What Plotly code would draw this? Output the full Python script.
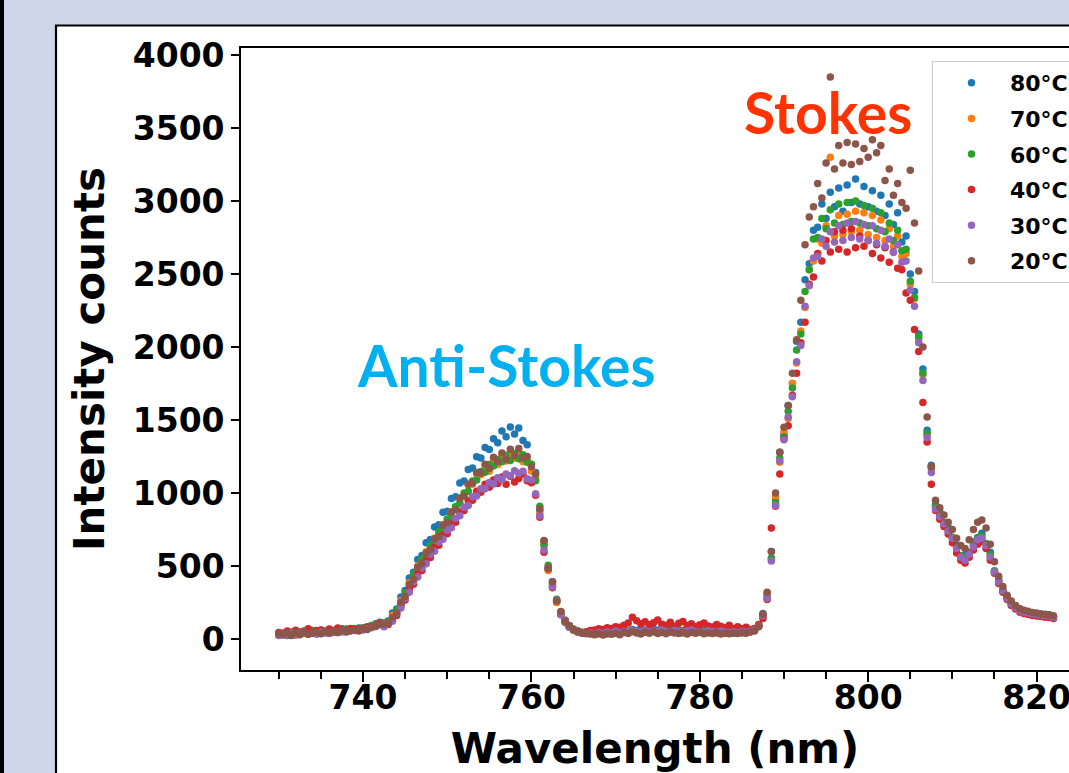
import plotly.graph_objects as go

# ---------------- data ----------------
wavelength = [
    730.0, 730.5, 731.0, 731.5, 732.0, 732.5, 733.0, 733.5, 734.0, 734.5,
    735.0, 735.5, 736.0, 736.5, 737.0, 737.5, 738.0, 738.5, 739.0, 739.5,
    740.0, 740.5, 741.0, 741.5, 742.0, 742.5, 743.0, 743.5, 744.0, 744.5,
    745.0, 745.5, 746.0, 746.5, 747.0, 747.5, 748.0, 748.5, 749.0, 749.5,
    750.0, 750.5, 751.0, 751.5, 752.0, 752.5, 753.0, 753.5, 754.0, 754.5,
    755.0, 755.5, 756.0, 756.5, 757.0, 757.5, 758.0, 758.5, 759.0, 759.5,
    760.0, 760.5, 761.0, 761.5, 762.0, 762.5, 763.0, 763.5, 764.0, 764.5,
    765.0, 765.5, 766.0, 766.5, 767.0, 767.5, 768.0, 768.5, 769.0, 769.5,
    770.0, 770.5, 771.0, 771.5, 772.0, 772.5, 773.0, 773.5, 774.0, 774.5,
    775.0, 775.5, 776.0, 776.5, 777.0, 777.5, 778.0, 778.5, 779.0, 779.5,
    780.0, 780.5, 781.0, 781.5, 782.0, 782.5, 783.0, 783.5, 784.0, 784.5,
    785.0, 785.5, 786.0, 786.5, 787.0, 787.5, 788.0, 788.5, 789.0, 789.5,
    790.0, 790.5, 791.0, 791.5, 792.0, 792.5, 793.0, 793.5, 794.0, 794.5,
    795.0, 795.5, 796.0, 796.5, 797.0, 797.5, 798.0, 798.5, 799.0, 799.5,
    800.0, 800.5, 801.0, 801.5, 802.0, 802.5, 803.0, 803.5, 804.0, 804.5,
    805.0, 805.5, 806.0, 806.5, 807.0, 807.5, 808.0, 808.5, 809.0, 809.5,
    810.0, 810.5, 811.0, 811.5, 812.0, 812.5, 813.0, 813.5, 814.0, 814.5,
    815.0, 815.5, 816.0, 816.5, 817.0, 817.5, 818.0, 818.5, 819.0, 819.5,
    820.0, 820.5, 821.0, 821.5, 822.0,
]

counts_80C = [
    30, 38, 25, 45, 33, 40, 55, 38, 48, 35, 60, 45, 52, 58, 48, 70, 55, 62, 68, 75, 72, 85, 90, 105, 115,
    112, 124, 178, 206, 288, 332, 418, 458, 545, 572, 660, 682, 768, 782, 868, 876, 962, 975, 1068, 1082,
    1162, 1172, 1248, 1240, 1312, 1298, 1372, 1345, 1425, 1385, 1452, 1405, 1445, 1360, 1330,
    1195, 1140, 880, 672, 478, 392, 252, 186, 114, 92, 60, 55, 40,
    45, 40, 50, 38, 55, 45, 42, 52, 48, 60, 55, 65, 58, 70, 62, 55, 68, 60, 72, 58,
    65, 70, 62, 58, 66, 55, 62, 70, 58, 52, 60, 55, 48, 58, 50, 45, 52, 48, 55, 50, 60, 95,
    175, 300, 600, 960, 1280, 1400, 1600, 1750, 2040, 2170, 2460, 2570, 2800, 2820, 2980,
    2880, 3060, 2960, 3090, 2930, 3110, 2990, 3150, 2980, 3100, 2960, 3070, 2930, 3040, 2900,
    2980, 2840, 2920, 2720, 2760, 2500, 2380, 2090, 1850, 1430, 1190, 920,
    875, 790, 765, 690, 645, 565, 575, 590, 665, 690, 725, 650, 595, 460, 410,
    328, 292, 240, 226, 196, 194, 178, 180, 168, 172, 162, 166, 152,
]

counts_70C = [
    40, 32, 35, 50, 28, 45, 38, 55, 42, 50, 38, 48, 60, 45, 55, 50, 65, 58, 70, 62, 75, 80, 88, 98, 110,
    106, 112, 162, 188, 262, 302, 385, 420, 500, 528, 598, 622, 692, 710, 785, 800, 872, 890, 962, 978,
    1055, 1060, 1130, 1125, 1185, 1150, 1222, 1195, 1252, 1220, 1265, 1240, 1270, 1215, 1225,
    1150, 1105, 860, 655, 470, 382, 250, 186, 118, 90, 62, 55, 42,
    42, 38, 48, 35, 50, 40, 45, 38, 52, 44, 48, 55, 50, 42, 58, 46, 52, 48, 56, 44,
    50, 58, 46, 52, 48, 55, 42, 50, 46, 52, 44, 48, 40, 46, 42, 50, 44, 48, 42, 50, 58, 92,
    150, 310, 545, 975, 1210, 1420, 1510, 1750, 1890, 2110, 2270, 2530, 2590, 2740, 2710,
    2830, 3300, 2760, 2900, 2770, 2910, 2790, 2930, 2800, 2920, 2770, 2900, 2750, 2870, 2730,
    2810, 2690, 2760, 2620, 2640, 2430, 2330, 2050, 1810, 1400, 1170, 900,
    850, 795, 745, 695, 625, 565, 550, 590, 640, 690, 700, 650, 570, 465, 395,
    332, 282, 242, 218, 198, 188, 180, 174, 170, 166, 162, 160, 152,
]

counts_60C = [
    28, 42, 36, 30, 52, 38, 45, 40, 58, 42, 50, 44, 56, 50, 62, 54, 68, 60, 72, 66, 78, 82, 92, 100, 112,
    92, 122, 140, 198, 238, 318, 358, 440, 470, 545, 570, 640, 662, 735, 750, 822, 840, 908, 930, 1000,
    1012, 1082, 1090, 1148, 1142, 1195, 1185, 1230, 1215, 1258, 1222, 1270, 1235, 1262, 1210,
    1198, 1085, 910, 640, 505, 368, 272, 170, 130, 82, 68, 48, 46,
    38, 45, 36, 48, 40, 52, 38, 46, 42, 50, 45, 55, 48, 52, 46, 58, 50, 44, 54, 48,
    52, 46, 56, 42, 50, 48, 54, 44, 50, 46, 52, 42, 48, 44, 50, 40, 46, 42, 48, 52, 62, 100,
    165, 285, 555, 935, 1240, 1385, 1560, 1720, 1980, 2090, 2380, 2530, 2740, 2750, 2880,
    2810, 2940, 2850, 2980, 2840, 2990, 2860, 3000, 2850, 2970, 2830, 2950, 2810, 2920, 2790,
    2850, 2730, 2800, 2660, 2670, 2450, 2340, 2070, 1820, 1410, 1180, 910,
    855, 798, 748, 698, 628, 570, 555, 595, 645, 695, 705, 655, 575, 468, 398,
    334, 284, 244, 219, 199, 189, 181, 175, 171, 167, 163, 161, 154,
]

counts_40C = [
    45, 35, 55, 40, 60, 48, 52, 70, 45, 58, 62, 50, 68, 55, 75, 60, 58, 72, 65, 70, 68, 80, 85, 95, 108,
    98, 100, 138, 162, 228, 268, 340, 375, 448, 470, 540, 558, 628, 642, 712, 722, 790, 800, 872, 880,
    948, 950, 1012, 1005, 1060, 1040, 1090, 1065, 1110, 1060, 1115, 1075, 1100, 1130, 1085,
    1070, 985, 835, 595, 482, 352, 262, 166, 125, 80, 66, 47, 45,
    50, 58, 62, 70, 65, 78, 72, 85, 80, 95, 110, 150, 125, 105, 118, 98, 112, 130, 102, 95,
    115, 88, 108, 120, 92, 105, 85, 98, 110, 90, 82, 100, 88, 78, 95, 72, 85, 70, 80, 65, 72, 98,
    140, 270, 760, 910, 1130, 1370, 1460, 1670, 1820, 2030, 2170, 2430, 2480, 2640, 2590,
    2730, 2650, 2790, 2670, 2800, 2650, 2810, 2680, 2760, 2690, 2730, 2640, 2700, 2610, 2680,
    2580, 2650, 2540, 2530, 2370, 2320, 2120, 1970, 1620, 1350, 1060, 880,
    820, 770, 720, 660, 590, 540, 520, 560, 610, 650, 670, 620, 540, 450, 380,
    320, 270, 230, 205, 185, 175, 168, 162, 158, 155, 150, 148, 140,
]

counts_30C = [
    25, 35, 30, 42, 28, 38, 45, 32, 40, 36, 48, 42, 38, 52, 45, 50, 48, 55, 58, 60, 62, 70, 78, 88, 98,
    84, 108, 122, 175, 212, 280, 320, 392, 425, 488, 515, 580, 602, 665, 684, 745, 762, 825, 845, 902,
    915, 975, 980, 1030, 1030, 1072, 1062, 1105, 1092, 1130, 1118, 1152, 1135, 1150, 1098,
    1090, 995, 845, 610, 488, 358, 265, 168, 126, 80, 66, 48, 45,
    36, 42, 32, 45, 38, 48, 40, 55, 44, 50, 46, 58, 52, 48, 60, 50, 55, 46, 62, 52,
    48, 58, 50, 45, 55, 62, 48, 52, 44, 56, 50, 46, 55, 48, 42, 50, 45, 52, 48, 55, 60, 88,
    160, 280, 535, 915, 1220, 1365, 1520, 1660, 1900, 2010, 2280, 2420, 2610, 2620, 2740,
    2690, 2790, 2720, 2830, 2730, 2850, 2750, 2860, 2740, 2840, 2730, 2830, 2710, 2800, 2690,
    2740, 2650, 2700, 2580, 2590, 2390, 2280, 2030, 1770, 1380, 1140, 890,
    840, 790, 740, 690, 620, 560, 540, 580, 630, 680, 690, 640, 560, 460, 390,
    330, 280, 240, 215, 195, 185, 178, 172, 168, 165, 160, 158, 150,
]

counts_20C = [
    35, 28, 42, 25, 48, 30, 52, 33, 40, 47, 36, 55, 41, 50, 44, 62, 50, 56, 62, 55, 70, 66, 82, 86, 102,
    102, 108, 148, 178, 252, 292, 375, 410, 492, 518, 590, 612, 685, 702, 780, 795, 870, 885, 965, 980,
    1060, 1068, 1140, 1135, 1198, 1170, 1245, 1215, 1275, 1230, 1300, 1255, 1305, 1240, 1250,
    1180, 1130, 890, 675, 488, 392, 260, 188, 122, 92, 63, 55, 42,
    40, 35, 30, 38, 28, 35, 32, 40, 30, 45, 38, 50, 42, 35, 48, 40, 52, 38, 45, 36,
    50, 42, 38, 46, 35, 44, 40, 48, 36, 42, 38, 45, 34, 40, 36, 42, 38, 45, 40, 48, 55, 85,
    170, 320, 600, 1000, 1280, 1450, 1600, 1820, 2050, 2320, 2700, 2890, 2960, 3120, 3020,
    3260, 3850, 3220, 3380, 3260, 3400, 3250, 3390, 3270, 3360, 3300, 3420, 3330, 3380, 3140,
    3220, 3040, 3120, 2990, 2950, 3210, 2850, 2520, 2000, 1520, 1180, 950,
    900, 850, 800, 750, 690, 640, 620, 680, 750, 800, 815, 760, 650, 530, 430,
    360, 300, 260, 230, 210, 198, 190, 182, 178, 172, 170, 165, 160,
]

series_names = ["80°C", "70°C", "60°C", "40°C", "30°C", "20°C"]
series_values = [counts_80C, counts_70C, counts_60C, counts_40C, counts_30C, counts_20C]
series_colors = ["#1f77b4", "#ff7f0e", "#2ca02c", "#d62728", "#9467bd", "#8c564b"]

for vals in series_values:
    assert len(vals) == len(wavelength), len(vals)

# ---------------- figure ----------------
W, H = 1069, 773
ML, MR, MT, MB = 241, 0, 48, 103
PW, PH = W - ML - MR, H - MT - MB


def px_x(p):
    return (p - ML) / PW


def px_y(p):
    return (H - MB - p) / PH


fig = go.Figure()
for name, vals, col in zip(series_names, series_values, series_colors):
    fig.add_trace(go.Scatter(
        x=wavelength, y=vals, mode="markers", name=name, legendgroup=name,
        marker=dict(size=7.5, color=col, line=dict(width=0)),
    ))

bold = dict(family="DejaVu Sans", color="black", weight="bold")

fig.update_layout(
    width=W, height=H,
    margin=dict(l=ML, r=MR, t=MT, b=MB, autoexpand=False),
    paper_bgcolor="#ced6ea",
    plot_bgcolor="white",
    showlegend=True,
    legend=dict(
        x=px_x(932), y=px_y(61), xanchor="left", yanchor="top",
        bgcolor="rgba(255,255,255,0.85)", bordercolor="#cccccc", borderwidth=1,
        font=dict(family="DejaVu Sans", size=22, color="black", weight="bold"),
        tracegroupgap=4, itemwidth=67,
    ),
    shapes=[
        dict(type="rect", xref="paper", yref="paper",
             x0=px_x(0), x1=px_x(4), y0=-0.3, y1=1.2,
             fillcolor="black", line=dict(width=0), layer="below"),
        dict(type="rect", xref="paper", yref="paper",
             x0=px_x(56), x1=1.3, y0=-0.4, y1=px_y(25.5),
             fillcolor="white", line=dict(color="black", width=2.2), layer="below"),
    ],
    annotations=[
        dict(text="Stokes", x=795.2, y=3610, xref="x", yref="y", showarrow=False,
             xanchor="center", yanchor="middle",
             font=dict(family="Lato", size=57, color="#ff3300", weight="bold")),
        dict(text="Anti-Stokes", x=757.0, y=1877, xref="x", yref="y", showarrow=False,
             xanchor="center", yanchor="middle",
             font=dict(family="Lato", size=57, color="#00b0f0", weight="bold")),
    ],
)

fig.update_xaxes(
    range=[725.51, 823.85], showgrid=False, zeroline=False,
    showline=True, linecolor="black", linewidth=1.6, mirror=True,
    ticks="outside", ticklen=10, tickwidth=1.6, tickcolor="black",
    dtick=20, tick0=0, ticklabelstandoff=-12, ticklabeloverflow="allow",
    minor=dict(ticks="outside", dtick=5, tick0=0, ticklen=7, tickwidth=1.6,
               tickcolor="black", showgrid=False),
    tickfont=dict(size=33, **bold),
    title=dict(text="Wavelength (nm)", font=dict(size=42, **bold), standoff=17),
)
fig.update_yaxes(
    range=[-212, 4048], showgrid=False, zeroline=False,
    showline=True, linecolor="black", linewidth=1.6, mirror=False,
    ticks="outside", ticklen=8, tickwidth=1.6, tickcolor="black",
    dtick=500, tick0=0,
    tickfont=dict(size=33, **bold),
    title=dict(text="Intensity counts", font=dict(size=42, **bold), standoff=15),
)

fig.write_html("out.html")
